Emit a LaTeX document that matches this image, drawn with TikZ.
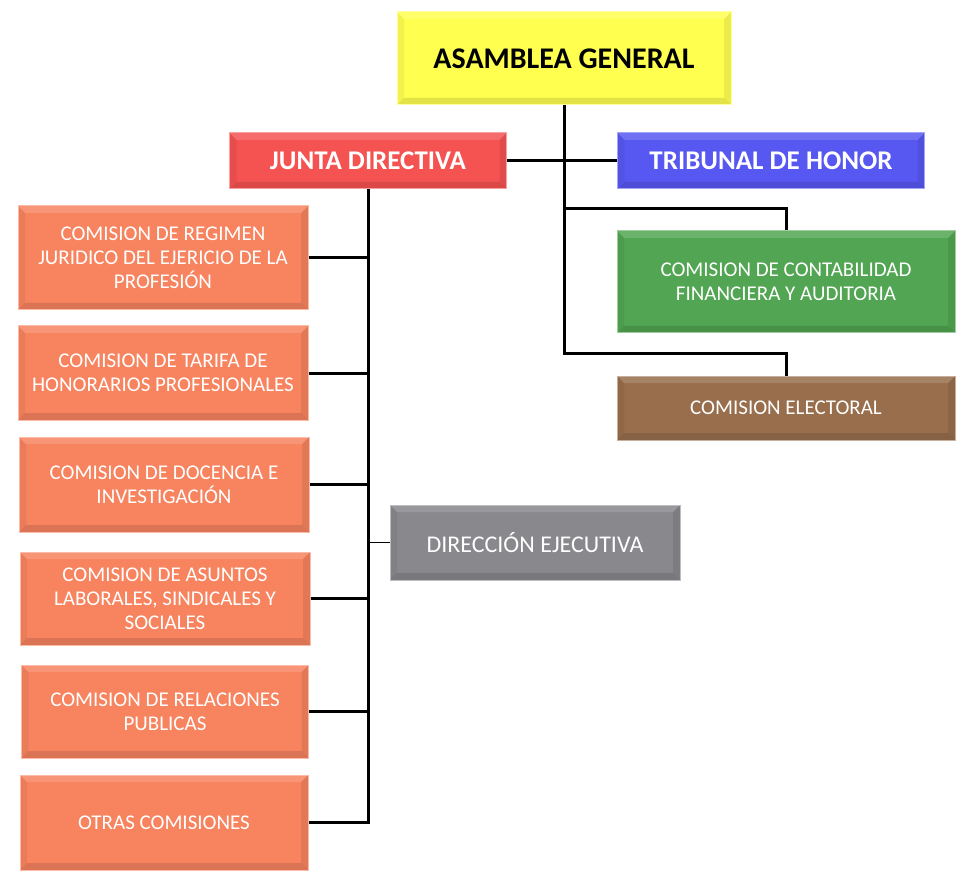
\documentclass[tikz,border=0pt]{standalone}
\usepackage{fontspec}
\setmainfont{Carlito}
\definecolor{cyel}{HTML}{FFFF50}
\definecolor{cred}{HTML}{F55252}
\definecolor{cblue}{HTML}{5757F2}
\definecolor{cgreen}{HTML}{52A552}
\definecolor{cbrown}{HTML}{986E4C}
\definecolor{corange}{HTML}{F7835F}
\definecolor{cgray}{HTML}{88888D}
\tikzset{
  bevel/.style={path picture={
    \fill[white,opacity=0.15] (path picture bounding box.north west) -- (path picture bounding box.north east) -- ([shift={(-7pt,-7pt)}]path picture bounding box.north east) -- ([shift={(7pt,-7pt)}]path picture bounding box.north west) -- cycle;
    \fill[black,opacity=0.05] (path picture bounding box.north west) -- (path picture bounding box.south west) -- ([shift={(7pt,7pt)}]path picture bounding box.south west) -- ([shift={(7pt,-7pt)}]path picture bounding box.north west) -- cycle;
    \fill[black,opacity=0.11] (path picture bounding box.south west) -- (path picture bounding box.south east) -- ([shift={(-7pt,7pt)}]path picture bounding box.south east) -- ([shift={(7pt,7pt)}]path picture bounding box.south west) -- cycle;
    \fill[black,opacity=0.08] (path picture bounding box.north east) -- (path picture bounding box.south east) -- ([shift={(-7pt,7pt)}]path picture bounding box.south east) -- ([shift={(-7pt,-7pt)}]path picture bounding box.north east) -- cycle;
  }},
  box/.style={rectangle, bevel, fill=#1, draw=#1!55!white, line width=1pt,
    inner sep=0pt, align=center, text=white},
  bigbox/.style={box=#1, font=\fontsize{27}{31}\selectfont\bfseries},
  smallbox/.style={box=#1, font=\fontsize{21}{24}\selectfont},
  link/.style={line width=3pt, black},
  thinlink/.style={line width=1.5pt, black}
}
\begin{document}
\begin{tikzpicture}[x=1pt,y=-1pt]
\useasboundingbox (0,0) rectangle (966,882);
\node[bigbox=cyel, text=black, font=\fontsize{30}{34}\selectfont\bfseries, minimum width=334pt, minimum height=93pt] (ag) at (564,58.5) {ASAMBLEA GENERAL};
\node[bigbox=cred, minimum width=277pt, minimum height=56pt] (jd) at (368,161) {JUNTA DIRECTIVA};
\node[bigbox=cblue, minimum width=307pt, minimum height=56pt] (th) at (771,161) {TRIBUNAL DE HONOR};
\node[smallbox=cgreen, minimum width=338pt, minimum height=102pt] (cc) at (786,282) {COMISION DE CONTABILIDAD\\FINANCIERA Y AUDITORIA};
\node[smallbox=cbrown, minimum width=338pt, minimum height=64pt] (ce) at (786,408) {COMISION ELECTORAL};
\node[smallbox=corange, minimum width=290pt, minimum height=104pt] (c1) at (163,258) {COMISION DE REGIMEN\\JURIDICO DEL EJERICIO DE LA\\PROFESIÓN};
\node[smallbox=corange, minimum width=290pt, minimum height=94pt] (c2) at (163,373) {COMISION DE TARIFA DE\\HONORARIOS PROFESIONALES};
\node[smallbox=corange, minimum width=290pt, minimum height=95pt] (c3) at (164,484.5) {COMISION DE DOCENCIA E\\INVESTIGACIÓN};
\node[smallbox=corange, minimum width=290pt, minimum height=93pt] (c4) at (165,598.5) {COMISION DE ASUNTOS\\LABORALES, SINDICALES Y\\SOCIALES};
\node[smallbox=corange, minimum width=287pt, minimum height=93pt] (c5) at (165,711.5) {COMISION DE RELACIONES\\PUBLICAS};
\node[smallbox=corange, minimum width=288pt, minimum height=95pt] (c6) at (164,822.5) {OTRAS COMISIONES};
\node[smallbox=cgray, font=\fontsize{24}{28}\selectfont, minimum width=290pt, minimum height=75pt] (de) at (535,542.5) {DIRECCIÓN EJECUTIVA};
% connectors
\coordinate (k1) at (564,209);
\coordinate (k2) at (564,354);
\draw[link] (ag.south) -- (k2) -| (cc.north |- ce.north);
\draw[link] (k1) -| (cc.north);
\draw[link] (jd.east) -- (th.west);
\coordinate (s6) at (jd.south |- c6.east);
\draw[link] (jd.south) -- (s6) -- (c6.east);
\foreach \n in {c1,c2,c3,c4,c5} \draw[link] (\n.east) -- (\n.east -| jd.south);
\draw[thinlink] (de.west) -- (de.west -| jd.south);
\end{tikzpicture}
\end{document}
